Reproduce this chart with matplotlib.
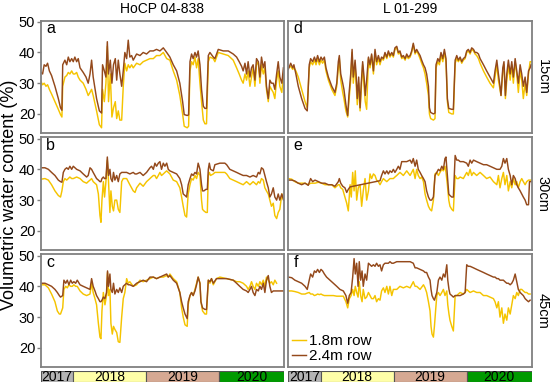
import numpy as np
import matplotlib
matplotlib.use("Agg")
import matplotlib.pyplot as plt
from matplotlib.patches import Rectangle

plt.rcParams['font.family'] = ['Liberation Sans', 'DejaVu Sans']

# ---------------- data (day number counted from 2017-01-01) ----------------
NaN = np.nan
days_a = [202,210,218,227,235,244,255,272,289,300,307,311,322,331,339,347,356,364,372,381,389,398,414,428,439,448,456,464,481,495,506,511,520,528,535,541,550,558,566,575,582,590,598,607,615,623,632,640,648,657,665,682,699,715,732,749,766,782,799,816,833,849,866,883,899,913,921,936,943,950,958,966,975,983,991,1000,1008,1017,1025,1033,1042,1050,1067,1075,1092,1117,1142,1167,1184,1197,1209,1217,1226,1234,1242,1251,1259,1267,1276,1284,1293,1301,1309,1318,1326,1334,1343,1351,1359,1368,1376,1385,1393,1401,1411,1419]
a_18 = [30.5,29.5,30,29,29.5,28,26.5,24,21.5,19.8,19,29,32,32.5,33.5,33,34,33,33,33.5,32,31,30,28,26,27,28,26,21,16.5,15.5,28,24,30,42,24,33,19,22,24,18.5,21,18,18,29,36.5,34,36,35,36,35,36.5,36,37,37.5,38,38,39,39,40,38,37.5,34,31,26,20,16,15.5,16,34,37,36,38.5,35,38,30,24,18,16.8,16.8,37,38.5,38,37,40,39.5,39,37.5,35,33,31,30,33,31,34,29,32,35,29,36,37,30,36,33,35,28,24,29,28,27,25,31,34,29,27,33]
a_24 = [33.5,33,36,35.5,36.5,34,32.5,29,25,22,21.2,36,37.5,36,38.5,37,38,37,38.5,37,38,35,33.5,32,30,33,37.5,32,25,21,20.3,36,34,32,43.5,33,37.5,30,36,38,31,37.5,33,29,34,40,38,44,38.5,39,37.5,39.5,39,40,39.5,40.5,40.5,41,40.5,41.5,40,38.5,36,34,30,24,19.8,19.5,19.7,37,39.5,38,40,38.5,40.5,36,28,22.5,21.8,21.8,39,40,38.5,38,41,40.5,40.5,39.5,38.5,37,35.5,34,36.5,33,37,32,35,36,31,38,37,32,38.5,35,37,29,25,31,30,30,28,33,37,32,30,35]

days_b = [202,222,239,255,272,289,300,307,314,322,331,339,347,356,364,381,398,414,431,439,448,456,464,481,490,498,503,508,515,521,528,535,541,548,553,560,566,573,582,590,598,607,615,632,648,665,674,682,699,715,732,749,757,766,774,782,791,799,807,816,824,833,841,849,866,883,899,908,916,925,933,941,950,958,966,975,983,991,1000,1008,1013,1020,1030,1037,1042,1047,1053,1067,1075,1100,1125,1134,1150,1167,1184,1200,1217,1234,1251,1267,1284,1293,1301,1309,1318,1326,1334,1343,1351,1359,1368,1376,1385,1393,1401,1411,1420]
b_18 = [36.8,37,36.5,35,33,31.5,31,33,36,37,36.5,37,37.5,37,37,37.5,37,36,35.5,36,36.5,37,36,35,32,25,22.8,30,36,31,36,43,36,26,33,28,26.5,30,30,27,26,36,37,37,35,33,32.5,34,35.5,34.5,36,37,37.5,38,38,37,38,39,38,38.5,39,39.5,39,38.5,36.5,36,34,31,28,25,24.5,32,35,37,36.5,38,37,39,38,30,27,26.5,26,26,38,39,38,38.5,39,39,39,38.5,37,36.5,36,35.5,35,36,35,36,35,36,35.5,37,36.5,34,33,32,30,28,29,25,24,26,27,32,30]
b_24 = [40.5,40.5,40,39,38,36.5,36,35.8,39,40,40.5,40,41,40,41,40,39.5,38.5,37.5,38,40.5,40,39,37,36.5,36,36,37,37.5,37,37,44,38,40,37,36,39,36.5,38,36,38.5,39,39,39,38.5,39,38.5,38.5,39,38,39,40.5,41,40,42,41,42,42.5,40,42,41,42,40,39.5,39,38.5,37,35,32,31.5,31,35,37,38.5,38,39,38.5,42,40,35,33,33,33.5,33.5,40,42,40,39.5,41.5,42,42,41.5,40,39.5,39,38.5,38,38,37.5,38,37.5,39,38.5,40.5,40,38,36,34,31,32,34,31,30,32,30,32,30]

days_c = [202,222,239,255,272,284,294,300,311,317,326,334,342,351,359,367,376,384,398,414,431,448,456,464,473,481,490,498,503,508,515,523,531,536,541,548,553,560,566,573,582,590,598,607,615,623,632,640,648,665,682,699,715,732,749,766,782,799,816,833,841,849,866,883,899,908,916,925,936,941,950,958,966,975,983,991,1000,1005,1013,1025,1033,1042,1050,1058,1067,1083,1100,1134,1167,1184,1200,1217,1234,1242,1251,1259,1267,1276,1284,1293,1301,1309,1318,1326,1334,1343,1351,1359,1368,1376,1385,1401,1420]
c_18 = [40.5,40.5,39.5,37.5,35,32,31,31,33,39,40,39.5,40.5,40,40,40.5,40,40,38.5,37.5,37,37.5,41,38,36,34,28,23.5,23,32,38,34,37,44.5,37,39,28,24.5,27,26,25,22,21.8,30,36,38,42.5,41,41.5,40,40.5,42,41.5,42,42.5,43,42.5,43,43,43.5,43,44,42.5,41.5,38,33,30,27.5,27,34,37,38,37,39,41,43,41,35,32,31,31,42,41,42.5,40.5,42.5,43,42.5,42,41.5,41.5,41,40,39,40,41.5,40,39,41,40,41.5,40.5,42,40,43,42,41,41.5,40.5,42,41,NaN,NaN]
c_24 = [41,41,40.5,40,39,38,37,36.5,37,42,41,42,40.5,42,41,41.5,41,42,40.5,40,39.5,39,42.5,40,38.5,37,36,35,35,35.5,36.5,36,38,45,40,44,39,38,41,37.5,39,38,39.5,38,40,40.5,41,40.5,40.5,40,41,41.5,42,41.5,43,43,42.5,43,43.5,44,43,43.5,42,41,38,35,33,31,29.5,35,37,38,37,38.5,40.5,43,41,35,33,32.5,32.5,42,41.5,42.5,41,42.5,42.5,42.5,42,41,40,39,38.5,38,39,40,38,37,39,38.5,40,39,41,38,42,43.5,40,38,38.5,38.5,38.5,38.5,38.5]

days_d = [202,214,224,230,240,252,269,286,297,307,314,324,333,341,349,358,366,374,383,391,403,420,436,445,453,458,465,475,481,491,500,506,515,522,528,537,542,548,555,562,568,575,582,588,595,604,612,620,629,637,645,654,662,670,679,687,696,704,712,721,729,737,746,754,762,771,779,788,796,804,813,821,829,838,846,854,863,871,880,888,896,905,910,916,930,938,943,952,960,968,977,985,993,1000,1007,1022,1030,1039,1047,1055,1064,1072,1080,1089,1097,1105,1114,1122,1131,1139,1147,1156,1164,1181,1197,1214,1231,1239,1248,1256,1264,1269,1278,1284,1291,1298,1306,1315,1323,1331,1340,1348,1356,1365,1373,1381,1390,1398,1407,1415,1420]
d_18 = [35,35.5,34.5,35,34,32,28,24,22,35,37,36,37.5,36,38,36,37.5,36.5,37.5,34,31,28,26,29,35,38,31,27,25,21,19,24,31,40,30,36,30,23,30,21,28,36,29,24,21.5,38,35,39,33,40,36,38,36,38,37.5,39.5,38,40,38.5,39.5,38.5,41,41.5,39.5,40,38,38.5,37.5,39,38,38.5,40,42.5,39.5,40.5,39.5,38,36.5,35,33,30,26,20,18.5,18,18.5,35,37,36,39,37,40,37,24,20.5,20,20,36.5,38,37,38,36.5,37.5,38,40,40.5,39.5,41,40.5,39.5,39,38,36.5,34,32,30,28.5,32,36,31,28,26,34,36,25,31,36,31,36,30,37,33,27,34,31,25,30,26,33,37,37]
d_24 = [34.5,36.5,35,36,33,29,25,21.8,21,36,38,37,38.5,37,39,37,38.5,37.5,38.5,35,32,29,27,30,37,39,33,30,28,23,19.5,26,33,41,32,37.5,33,25,32,22,30,37,32,26,31,38.5,36,39.5,34,41,37,39,37,38.5,38,40,38.5,40.5,39,40,39,41.5,42,40,40.5,38.5,39,38,39.5,38.5,39,40.5,43,40,41,40,39,37.5,36,35,33,29,22,20.5,20,20.3,36,38,37,40,38,41,38,25,21.8,21.5,21.5,37.5,39,37.5,38.5,37,38,38.5,40.5,41,40,41.5,41,40,40,39.5,38,36,34,32,30,34,37.5,33,29,26,35,37,26,33,37.5,33,37,32,38,34,30,36,33,29,32,27,34,35,36]

days_e = [202,219,235,252,269,286,302,314,324,336,353,369,386,403,420,436,453,458,465,475,486,495,503,512,518,525,532,538,545,553,562,570,578,587,595,604,612,620,629,637,645,654,662,670,679,687,696,704,712,721,729,737,746,754,762,771,779,796,813,821,829,838,846,854,863,871,880,888,896,905,913,921,930,938,947,955,963,972,980,988,993,1000,1007,1013,1022,1030,1039,1047,1055,1064,1080,1097,1105,1114,1122,1131,1147,1164,1181,1197,1214,1231,1248,1256,1264,1273,1281,1289,1298,1306,1315,1323,1331,1340,1348,1356,1365,1373,1381,1390,1398,1407,1412,1420]
e_18 = [37,36.8,36,35.5,35.5,35.5,35,35.5,35.5,35.5,35.8,35.5,35,35,35,34,35,35,34,33.5,31,29,26.5,35,31,39,33,39.5,30,34,35,28,33,37,30,33,38.5,37,38.5,38,36.5,36,35,36,37,36.5,36,36.5,37,37,37,37.5,38,38.5,39,38.5,38,39.5,38,39,40,37,40,38,37,37.5,36,32,30,28,27,26.5,30,38.5,39,38,39,40,39.5,41,39,35,30,28,27,26.5,38,37,37,37.5,37,39,38,40,38,39,38,39,38,37,37.5,36,35,38,34,37,39,35,38,33,36,34,37,35,36,34,36,37,36,35,36,36.5,36.5,36.5]
e_24 = [36.5,36.5,36.2,35.5,35,35.5,34.8,37,36,36.5,36,35.5,35.5,35,35,34.5,36,37,35.5,34.5,34,32.5,33.5,34.3,NaN,NaN,NaN,NaN,NaN,NaN,NaN,NaN,NaN,NaN,NaN,NaN,NaN,NaN,NaN,NaN,NaN,NaN,36.3,38,39.5,38.5,39.5,38.5,39.5,39,40,39,40,41,40,42.5,42.5,42.5,43,42,43.5,41,43,40,39,38,37,36,33,31,30,30,31,38,39,40,39.5,41,40,43.5,44,38,32,31.5,31,31,44.5,43,43,42.5,42.5,42,41,43,42,43,42.5,42,41.5,41.5,41,40.5,40,40,40,41,43.5,42,43.5,40,38,35,38,37,35,34,33,32,31,30,28.5,28.5,36,36]

days_f = [202,219,235,252,269,286,297,307,314,324,333,341,349,358,366,374,383,394,411,428,445,461,478,491,500,508,517,525,532,538,545,552,558,565,572,578,587,595,604,612,620,629,637,645,654,662,670,679,687,696,704,712,721,729,746,762,779,796,813,829,838,846,863,880,888,896,905,913,918,923,930,935,942,947,955,963,972,980,988,997,1002,1008,1013,1022,1030,1039,1047,1055,1064,1080,1089,1097,1105,1114,1131,1147,1164,1181,1197,1214,1231,1239,1248,1256,1264,1273,1281,1289,1298,1306,1315,1323,1331,1340,1348,1356,1365,1373,1381,1390,1398,1407,1415]
f_18 = [38.5,38.5,38.3,38,37.5,37.5,37.8,38,37.5,37.5,37,37.2,37.5,37.3,37.5,37.2,37,37,37,37,36.8,36.8,36.8,35,33,36,37,39,37,40,38,36.5,41.5,37,35,39,36,36.5,38,37,36,36,37,35,36,35.5,38.5,39.5,38,40,37.5,40,37,39,39,40,39.5,40,39.5,41.5,40,40,39,40.5,39.5,38,35,32,27,24.5,23.5,27,33,37,38,37,38,39,37,38.5,34,31,29,27,25.5,37,37,37.5,38,37.5,38,39,38.5,38,38.5,38,38,37,37,36.5,36,35,33,35,30,33,28,31,29,33,31,34,37,36,38,37,39,39,38.5,38,38,37.5,37.5]
f_24 = [43,42.8,42,41.5,41,40,39,42,44,43,45,44.5,45.5,44.5,45.5,45,44,43,42,41,40,39,38.5,37,34.5,37,38,43,49,44,47.5,40,48,42,45,40,44,42,47.5,47,46.5,47,46.5,47.5,46.5,47,45,47,47.5,47.5,47.5,48,47.5,47.5,48,48,48,48,48,47.5,46,46,45.5,45,44.5,44.5,43,42,39,37,36,35.5,37,38,42,43,42,44,43,47,42,39,37.5,37,36.5,37,37,37,37,37.5,38,47,46.5,46.5,46,45.5,45,44.5,44,43.5,43,43,42.5,42.5,42,42,42,41.5,41,41,40.5,41,42,44,41.5,39,38,37.5,37,36,35.5,35,35.5]

year_labels = ['2017', '2018', '2019', '2020']
year_edges = [202, 365, 730, 1096, 1422]
year_colors = ['#b4b4b4', '#ffffa8', '#d6a993', '#009a00']
cultivars = ['HoCP 04-838', 'L 01-299']
depths = ['15cm', '30cm', '45cm']
series_names = ['1.8m row', '2.4m row']

panels = [
    [('a', days_a, a_18, a_24), ('d', days_d, d_18, d_24)],
    [('b', days_b, b_18, b_24), ('e', days_e, e_18, e_24)],
    [('c', days_c, c_18, c_24), ('f', days_f, f_18, f_24)],
]

# ---------------- style ----------------
C18 = '#f5c400'
C24 = '#94491b'
SPINE = '#808080'
W, H = 550, 390
fig = plt.figure(figsize=(5.5, 3.9), dpi=100)

col_x = [(41, 284), (288.3, 531.5)]
row_y = [(20.5, 132.7), (137.3, 249.7), (254.3, 366.7)]
XLIM = (202, 1422)
YLIM = (13.9, 50.4)

def fig_rect(x0, x1, top, bot):
    return [x0 / W, 1 - bot / H, (x1 - x0) / W, (bot - top) / H]

for r in range(3):
    for c in range(2):
        letter, dd, y18, y24 = panels[r][c]
        ax = fig.add_axes(fig_rect(col_x[c][0], col_x[c][1], row_y[r][0], row_y[r][1]))
        dd = np.asarray(dd, float)
        y18 = np.asarray(y18, float)
        y24 = np.asarray(y24, float)
        m18 = ~np.isnan(y18)
        m24 = ~np.isnan(y24)
        ax.plot(dd[m18], y18[m18], color=C18, lw=1.05, label=series_names[0])
        ax.plot(dd[m24], y24[m24], color=C24, lw=1.05, label=series_names[1])
        ax.set_xlim(*XLIM)
        ax.set_ylim(*YLIM)
        for s in ax.spines.values():
            s.set_color(SPINE)
            s.set_linewidth(1.3)
        ax.set_xticks([])
        if c == 0:
            ax.set_yticks([20, 30, 40, 50])
            ax.tick_params(axis='y', length=3, width=1, color=SPINE, labelsize=10.5, pad=1.2)
        else:
            ax.set_yticks([])
            ax.text(1.018, 0.5, depths[r], transform=ax.transAxes, rotation=270,
                    ha='left', va='center', fontsize=10.5)
        ax.text(0.022, 0.925, letter, transform=ax.transAxes, ha='left', va='center', fontsize=11.5)
        if letter == 'f':
            ax.legend(loc='lower left', frameon=False, fontsize=11, handlelength=0.9,
                      handletextpad=0.2, labelspacing=0.05, borderaxespad=0.15,
                      borderpad=0.1)

# year bars
for c in range(2):
    bx = fig.add_axes(fig_rect(col_x[c][0], col_x[c][1], 370.7, 381.7))
    bx.set_xlim(*XLIM)
    bx.set_ylim(0, 1)
    for i, lab in enumerate(year_labels):
        x0, x1 = year_edges[i], year_edges[i + 1]
        bx.add_patch(Rectangle((x0, 0), x1 - x0, 1, facecolor=year_colors[i],
                               edgecolor='#555555', lw=0.8))
        bx.text((x0 + x1) / 2, 0.42, lab, ha='center', va='center', fontsize=10)
    bx.axis('off')

# titles and labels
fig.text((41 + 284) / 2 / W, 1 - 9 / H, cultivars[0], ha='center', va='center', fontsize=10)
fig.text((288.3 + 531.5) / 2 / W, 1 - 9 / H, cultivars[1], ha='center', va='center', fontsize=10)
fig.text(10 / W, 0.5, 'Volumetric water content (%)', rotation=90, ha='center', va='center', fontsize=13)

fig.savefig('out.png', dpi=100)
